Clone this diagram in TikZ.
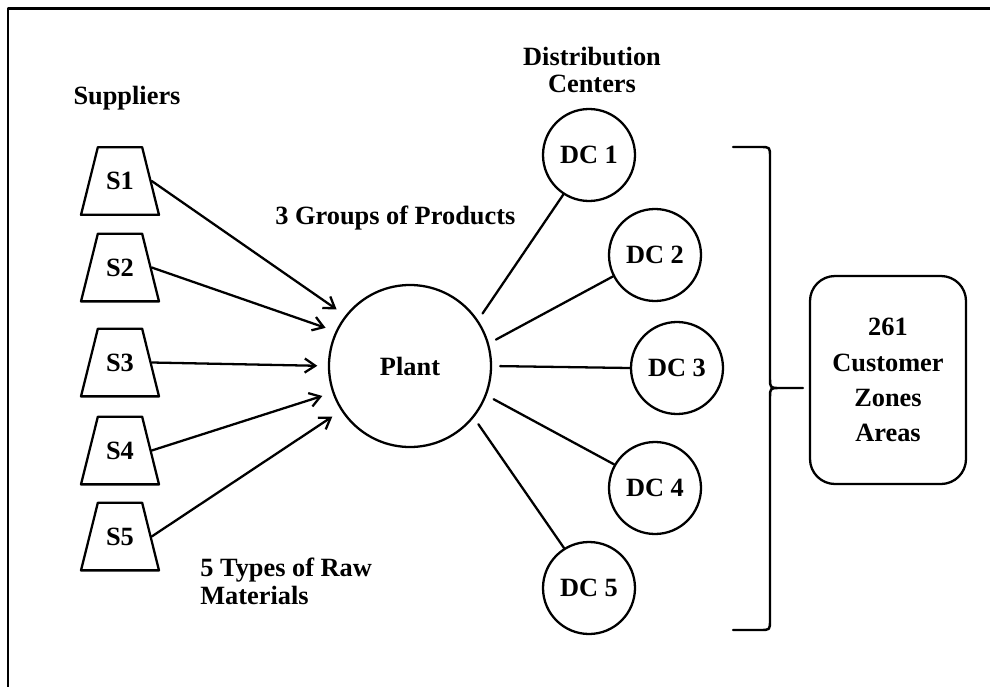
\documentclass[tikz,border=0pt]{standalone}
\usepackage{fontspec}
\setmainfont{Liberation Serif}
\usetikzlibrary{shapes.geometric,arrows.meta}
\tikzset{
	txt/.style={font=\fontsize{15}{15.6}\selectfont\bfseries,inner sep=0pt},
	supplier/.style={draw,trapezium,trapezium left angle=76,trapezium right angle=76,trapezium stretches body=true,txt,inner xsep=0pt,inner ysep=0.5cm,minimum width=1.56cm,line width=1.3pt},
	dcnode/.style={draw,circle,minimum size=1.84cm,inner sep=0pt,line width=1.3pt,txt},
	feed/.style={->,line width=1.3pt,shorten >=6pt},
	link/.style={line width=1.3pt,shorten <=4.5pt}
}
\begin{document}
\begin{tikzpicture}[>={Straight Barb[length=6pt,width=8pt]},line join=round,line cap=round]
	\useasboundingbox (0,0) rectangle (19.8,-13.74);
	%khung
	\draw[line width=1.5pt,line cap=butt] (0.16,-13.74)--(0.16,-0.17)--(19.8,-0.17);
	\node[dcnode,minimum size=3.24cm] (plant) at (8.2,-7.32) {Plant};
	\foreach \i/\y in {1/-3.62,2/-5.35,3/-7.25,4/-9.01,5/-10.73}{
		\node[supplier] (S\i) at (2.4,\y) {S\i};}
	\foreach \i/\x/\y in {1/11.78/-3.1,2/13.1/-5.1,3/13.54/-7.36,4/13.1/-9.76,5/11.78/-11.76}{
		\node[dcnode] (dc\i) at (\x,\y) {DC \i};}
	\foreach \i/\a in {1/142,2/155,3/180,4/199,5/213}{
		\draw[feed] (S\i.east)--(plant.\a);}
	\foreach \i/\a/\b in {1/34/237,2/16/207,3/0/180,4/339/150,5/321/122}{
		\draw[link] (plant.\a)--(dc\i.\b);}
	\node[draw,rounded corners=0.5cm,minimum width=3.12cm,minimum height=4.16cm,line width=1.3pt,align=center,font=\fontsize{15}{20}\selectfont\bfseries] (cust) at (17.76,-7.6) {261\\Customer\\Zones\\Areas};
	%ngoac
	\path (14.66,-2.94) coordinate (bt) (14.66,-12.6) coordinate (bb) (16.06,-7.76) coordinate (tip);
	\draw[line width=1.4pt] (bt)--(15.2,-2.94) .. controls (15.4,-2.94) .. (15.4,-3.14)--(15.4,-7.56) .. controls (15.4,-7.76) .. (15.6,-7.76)--(tip)
		(bb)--(15.2,-12.6) .. controls (15.4,-12.6) .. (15.4,-12.4)--(15.4,-7.96) .. controls (15.4,-7.76) .. (15.6,-7.76);
	\node[txt] (lsup) at (2.54,-1.96) {Suppliers};
	\node[txt,align=center] (ldc) at (11.84,-1.4) {Distribution\\Centers};
	\node[txt,anchor=west] (lprod) at (5.5,-4.36) {3 Groups of Products};
	\node[txt,anchor=west,align=left] (lraw) at (4.0,-11.63) {5 Types of Raw\\Materials};
\end{tikzpicture}
\end{document}
